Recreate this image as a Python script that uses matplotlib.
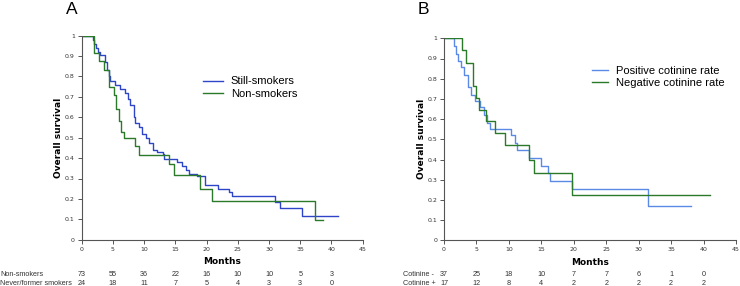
import matplotlib
matplotlib.use("Agg")
import matplotlib.pyplot as plt
import matplotlib.transforms as mtransforms

# Panel A: Kaplan-Meier steps (month, survival)
still_t = [0, 1.8, 2.0, 2.3, 2.6, 2.9, 3.7, 4.0, 4.3, 4.6, 5.4, 6.2, 7.0, 7.4, 7.8, 8.3, 8.6, 9.2,
           9.7, 10.3, 10.8, 11.4, 12.0, 13.0, 13.2, 15.2, 16.0, 16.7, 17.2, 18.5, 19.8, 21.8, 23.6,
           24.1, 31.0, 31.7, 35.3, 41.1]
still_s = [1.0, 0.98, 0.96, 0.94, 0.92, 0.905, 0.87, 0.83, 0.80, 0.78, 0.76, 0.74, 0.72, 0.69, 0.66,
           0.60, 0.57, 0.55, 0.52, 0.50, 0.475, 0.44, 0.43, 0.42, 0.395, 0.38, 0.36, 0.34, 0.32, 0.31,
           0.27, 0.25, 0.235, 0.215, 0.185, 0.155, 0.115, 0.115]
non_t = [0, 1.9, 2.7, 3.5, 4.3, 5.1, 5.5, 5.9, 6.3, 6.7, 8.6, 9.1, 14.0, 14.8, 18.9, 20.9, 37.3, 38.6]
non_s = [1.0, 0.915, 0.875, 0.83, 0.75, 0.71, 0.64, 0.58, 0.53, 0.50, 0.46, 0.415, 0.37, 0.315,
         0.25, 0.19, 0.095, 0.095]

# Panel B
pos_t = [0, 1.6, 1.85, 2.2, 2.6, 3.1, 3.7, 4.1, 4.8, 5.5, 6.1, 6.7, 7.1, 7.9, 10.4, 10.9, 11.2,
         13.1, 14.9, 16.1, 16.4, 19.7, 31.5, 38.1]
pos_s = [1.0, 0.96, 0.92, 0.89, 0.86, 0.82, 0.76, 0.72, 0.69, 0.66, 0.62, 0.58, 0.55, 0.55, 0.52,
         0.48, 0.445, 0.405, 0.37, 0.335, 0.295, 0.255, 0.17, 0.17]
neg_t = [0, 2.7, 3.4, 4.4, 5.0, 5.4, 6.5, 7.9, 9.4, 13.1, 13.8, 19.7, 41.0]
neg_s = [1.0, 0.94, 0.88, 0.765, 0.705, 0.645, 0.59, 0.53, 0.47, 0.40, 0.335, 0.225, 0.225]

risk_months = [0, 5, 10, 15, 20, 25, 30, 35, 40]
risk_a_labels = ["Non-smokers", "Never/former smokers"]
risk_a = [[73, 55, 36, 22, 16, 10, 10, 5, 3],
          [24, 18, 11, 7, 5, 4, 3, 3, 0]]
risk_b_labels = ["Cotinine -", "Cotinine +"]
risk_b = [[37, 25, 18, 10, 7, 7, 6, 1, 0],
          [17, 12, 8, 4, 2, 2, 2, 2, 2]]

SANS = ["Liberation Sans", "DejaVu Sans"]
W, H = 740, 286
fig = plt.figure(figsize=(W / 100, H / 100), dpi=100)


def setup(ax):
    ax.set_xlim(0, 45)
    ax.set_ylim(0, 1)
    for s in ["top", "right"]:
        ax.spines[s].set_visible(False)
    for s in ["left", "bottom"]:
        ax.spines[s].set_color("#555555")
        ax.spines[s].set_linewidth(0.8)
    ax.set_xticks(range(0, 46, 5))
    ax.set_yticks([i / 10 for i in range(11)])
    ax.set_yticklabels(["0"] + ["%.1f" % (i / 10) for i in range(1, 10)] + ["1"])
    ax.tick_params(labelsize=4.5, length=3, width=0.7, color="#555555", labelcolor="#333333", pad=2)
    ax.set_xlabel("Months", fontsize=6.5, fontweight="bold", labelpad=4)
    ax.set_ylabel("Overall survival", fontsize=6.5, fontweight="bold", labelpad=1)


def risk_table(ax, labels, rows, label_x):
    tr = mtransforms.blended_transform_factory(ax.transData, fig.transFigure)
    ys = [1 - 275 / H, 1 - 283.5 / H]
    for lab, row, y in zip(labels, rows, ys):
        fig.text(label_x / W, y, lab, fontsize=5.2, family=SANS, color="#333333",
                 va="center", ha="left")
        for m, n in zip(risk_months, row):
            ax.text(m, y, str(n), transform=tr, fontsize=5.2, family=SANS, color="#333333",
                    va="center", ha="center")


def legend(ax, anchor, hlen):
    ax.legend(loc="upper left", bbox_to_anchor=anchor, frameon=False,
              prop={"family": SANS, "size": 8}, borderpad=0, borderaxespad=0,
              handlelength=hlen, handletextpad=0.7, labelspacing=0.25)


# Panel A
axA = fig.add_axes([81.7 / W, 1 - 239.7 / H, 281 / W, 204 / H])
setup(axA)
axA.step(still_t, still_s, where="post", color="#2f45c8", lw=1.0, label="Still-smokers")
axA.step(non_t, non_s, where="post", color="#2a7a2a", lw=1.0, label="Non-smokers")
legend(axA, (0.432, 0.80), 1.8)
risk_table(axA, risk_a_labels, risk_a, 0)
fig.text(66 / W, 1 - 2 / H, "A", fontsize=12.5, family=SANS, va="top", ha="left")

# Panel B
axB = fig.add_axes([444 / W, 1 - 240.3 / H, 292 / W, 202 / H])
setup(axB)
axB.step(pos_t, pos_s, where="post", color="#5a8ae6", lw=1.0, label="Positive cotinine rate")
axB.step(neg_t, neg_s, where="post", color="#2a7a2a", lw=1.0, label="Negative cotinine rate")
legend(axB, (0.507, 0.865), 1.45)
risk_table(axB, risk_b_labels, risk_b, 403)
fig.text(418 / W, 1 - 2 / H, "B", fontsize=12.5, family=SANS, va="top", ha="left")

fig.savefig("out.png", dpi=100)
